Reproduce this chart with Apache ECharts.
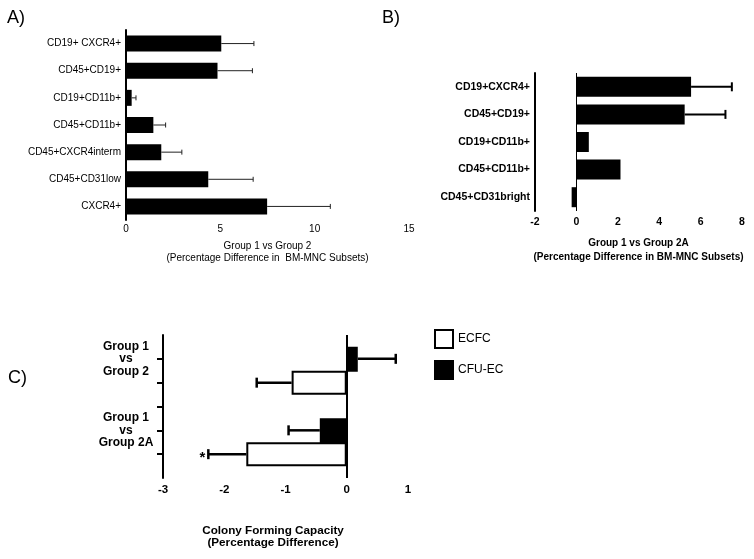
<!DOCTYPE html>
<html>
<head>
<meta charset="utf-8">
<script src="https://cdn.jsdelivr.net/npm/echarts@6/dist/echarts.min.js"></script>
<style>
html,body{margin:0;padding:0;background:#fff}
#chart{width:754px;height:559px}
</style>
</head>
<body>
<div id="chart"></div>
<script>
// A) Group 1 vs Group 2
var aCategories = ['CD19+ CXCR4+', 'CD45+CD19+', 'CD19+CD11b+', 'CD45+CD11b+', 'CD45+CXCR4interm', 'CD45+CD31low', 'CXCR4+']
var aValues = [5.05, 4.85, 0.3, 1.45, 1.87, 4.36, 7.48]
var aErrors = [1.73, 1.85, 0.23, 0.65, 1.09, 2.38, 3.35]
var aTicks = [0, 5, 10, 15]

// B) Group 1 vs Group 2A
var bCategories = ['CD19+CXCR4+', 'CD45+CD19+', 'CD19+CD11b+', 'CD45+CD11b+', 'CD45+CD31bright']
var bValues = [5.54, 5.23, 0.6, 2.13, -0.23]
var bErrors = [1.97, 1.97, 0, 0, 0]
var bTicks = [-2, 0, 2, 4, 6, 8]

// C) colony forming capacity
var cGroups = ['Group 1\nvs\nGroup 2', 'Group 1\nvs\nGroup 2A']
var cfuValues = [0.18, -0.44]
var cfuErrors = [0.62, 0.51]
var ecfcValues = [-0.90, -1.64]
var ecfcErrors = [0.57, 0.62]
var ecfcMarks = ['', '*']
var cTicks = [-3, -2, -1, 0, 1]

var FONT = 'Liberation Sans, Arial, sans-serif'

// C axis: one empty slot on top, then CFU-EC / ECFC / gap per group
var cCats = [], cfuData = [], ecfcData = []
for (var k = 0; k < cGroups.length * 3 + 1; k++) {
	cCats.push('')
	cfuData.push('-')
	ecfcData.push('-')
}
for (var g = 0; g < cGroups.length; g++) {
	cCats[g * 3 + 1] = cGroups[g]
	cfuData[g * 3 + 1] = cfuValues[g]
	ecfcData[g * 3 + 2] = ecfcValues[g]
}

function errPoints(values, errors, slots) {
	var pts = []
	for (var i = 0; i < values.length; i++) {
		if (!errors[i]) continue
		var sign = values[i] < 0 ? -1 : 1
		pts.push([values[i] + sign * errors[i], slots ? slots[i] : i, values[i]])
	}
	return pts
}

function errorSeries(points, xi, lw, cap, color, marks) {
	return {
		type: 'custom',
		xAxisIndex: xi,
		yAxisIndex: xi,
		silent: true,
		z: 5,
		encode: { x: [0, 2], y: 1 },
		data: points,
		renderItem: function (params, api) {
			var y = api.value(1)
			var s = api.coord([api.value(2), y])
			var e = api.coord([api.value(0), y])
			var st = { stroke: color, lineWidth: lw }
			var children = [
				{ type: 'line', shape: { x1: s[0], y1: s[1], x2: e[0], y2: e[1] }, style: st },
				{ type: 'line', shape: { x1: e[0], y1: e[1] - cap / 2, x2: e[0], y2: e[1] + cap / 2 }, style: st }
			]
			var m = marks && marks[params.dataIndex]
			if (m) {
				var left = e[0] < s[0]
				children.push({
					type: 'text',
					x: e[0] + (left ? -3 : 3),
					y: e[1] + 4,
					style: { text: m, align: left ? 'right' : 'left', verticalAlign: 'middle', font: 'bold 15px ' + FONT, fill: '#000' }
				})
			}
			return { type: 'group', children: children }
		}
	}
}

var axisLineStyle = { color: '#000', width: 2 }

var option = {
	animation: false,
	backgroundColor: '#fff',
	textStyle: { fontFamily: FONT },
	grid: [
		{ left: 126, top: 30, width: 283, height: 190 },
		{ left: 535, top: 73, width: 207, height: 138 },
		{ left: 163, top: 335, width: 245, height: 143 }
	],
	legend: {
		data: ['ECFC', 'CFU-EC'],
		orient: 'vertical',
		left: 429,
		top: 324,
		itemWidth: 18,
		itemHeight: 18,
		itemGap: 11,
		icon: 'rect',
		selectedMode: false,
		textStyle: { fontFamily: FONT, fontSize: 12, color: '#000' }
	},
	xAxis: [
		{
			gridIndex: 0, type: 'value',
			min: aTicks[0], max: aTicks[aTicks.length - 1], interval: aTicks[1] - aTicks[0],
			axisLine: { lineStyle: axisLineStyle },
			axisTick: { length: 4, lineStyle: { color: '#000', width: 2 } },
			axisLabel: { color: '#000', fontSize: 10, margin: 4 },
			splitLine: { show: false },
			name: 'Group 1 vs Group 2\n(Percentage Difference in  BM-MNC Subsets)',
			nameLocation: 'middle', nameGap: 20,
			nameTextStyle: { color: '#000', fontSize: 10, lineHeight: 12 }
		},
		{
			gridIndex: 1, type: 'value',
			min: bTicks[0], max: bTicks[bTicks.length - 1], interval: bTicks[1] - bTicks[0],
			axisLine: { onZero: false, lineStyle: axisLineStyle },
			axisTick: { length: 4, lineStyle: { color: '#000', width: 2 } },
			axisLabel: { color: '#000', fontSize: 10.5, fontWeight: 'bold', margin: 6 },
			splitLine: { show: false },
			name: 'Group 1 vs Group 2A\n(Percentage Difference in BM-MNC Subsets)',
			nameLocation: 'middle', nameGap: 26,
			nameTextStyle: { color: '#000', fontSize: 10, fontWeight: 'bold', lineHeight: 13.4 }
		},
		{
			gridIndex: 2, type: 'value',
			min: cTicks[0], max: cTicks[cTicks.length - 1], interval: cTicks[1] - cTicks[0],
			axisLine: { onZero: false, lineStyle: axisLineStyle },
			axisTick: { length: 5, lineStyle: { color: '#000', width: 2 } },
			axisLabel: { color: '#000', fontSize: 11.5, fontWeight: 'bold', margin: 6 },
			splitLine: { show: false }
		}
	],
	yAxis: [
		{
			gridIndex: 0, type: 'category', inverse: true, data: aCategories,
			axisLine: { onZero: false, lineStyle: axisLineStyle },
			axisTick: { alignWithLabel: true, length: 3, lineStyle: { color: '#000', width: 1 } },
			axisLabel: { color: '#000', fontSize: 10, margin: 5 }
		},
		{
			gridIndex: 1, type: 'category', inverse: true, data: bCategories,
			axisLine: { onZero: false, lineStyle: axisLineStyle },
			axisTick: { alignWithLabel: true, length: 4, lineStyle: { color: '#000', width: 1.5 } },
			axisLabel: { color: '#000', fontSize: 10.5, fontWeight: 'bold', margin: 5 }
		},
		{
			gridIndex: 2, type: 'category', inverse: true, boundaryGap: false, data: cCats,
			axisLine: { onZero: false, lineStyle: axisLineStyle },
			axisTick: {
				length: 6, lineStyle: { color: '#000', width: 2 },
				interval: function (idx) { return idx > 0 && idx < cCats.length - 1 }
			},
			axisLabel: {
				interval: 0, color: '#000', fontSize: 12, fontWeight: 'bold',
				align: 'center', lineHeight: 12.5, margin: 37
			}
		}
	],
	series: [
		{
			type: 'bar', xAxisIndex: 0, yAxisIndex: 0, data: aValues,
			barWidth: 16, itemStyle: { color: '#000' }, silent: true
		},
		errorSeries(errPoints(aValues, aErrors), 0, 1, 5, '#222'),
		{
			type: 'bar', xAxisIndex: 1, yAxisIndex: 1, data: bValues,
			barWidth: 20, itemStyle: { color: '#000' }, silent: true,
			markLine: {
				silent: true, symbol: 'none', label: { show: false },
				lineStyle: { color: '#000', width: 1, type: 'solid' },
				data: [{ xAxis: 0 }]
			}
		},
		errorSeries(errPoints(bValues, bErrors), 1, 2, 9, '#000'),
		{
			name: 'CFU-EC', type: 'bar', xAxisIndex: 2, yAxisIndex: 2, data: cfuData,
			barWidth: 25, barGap: '-100%', silent: true,
			itemStyle: { color: '#000', borderColor: '#000', borderWidth: 2 },
			markLine: {
				silent: true, symbol: 'none', label: { show: false },
				lineStyle: { color: '#000', width: 2, type: 'solid' },
				data: [{ xAxis: 0 }]
			}
		},
		{
			name: 'ECFC', type: 'bar', xAxisIndex: 2, yAxisIndex: 2, data: ecfcData,
			barWidth: 24, barGap: '-100%', silent: true,
			itemStyle: { color: '#fff', borderColor: '#000', borderWidth: 2 }
		},
		errorSeries(errPoints(cfuValues, cfuErrors, [1, 4]), 2, 2.5, 10, '#000'),
		errorSeries(errPoints(ecfcValues, ecfcErrors, [2, 5]), 2, 2.5, 10, '#000', ecfcMarks)
	],
	graphic: [
		{ type: 'text', x: 7, y: 18, style: { text: 'A)', font: '18px ' + FONT, fill: '#000', verticalAlign: 'middle' } },
		{ type: 'text', x: 382, y: 18, style: { text: 'B)', font: '18px ' + FONT, fill: '#000', verticalAlign: 'middle' } },
		{ type: 'text', x: 8, y: 378, style: { text: 'C)', font: '18px ' + FONT, fill: '#000', verticalAlign: 'middle' } },
		{
			type: 'text', x: 273, y: 524,
			style: {
				text: 'Colony Forming Capacity\n(Percentage Difference)',
				font: 'bold 11.7px ' + FONT, fill: '#000', align: 'center', lineHeight: 12.7
			}
		}
	]
}

echarts.init(document.getElementById('chart')).setOption(option)
</script>
</body>
</html>
